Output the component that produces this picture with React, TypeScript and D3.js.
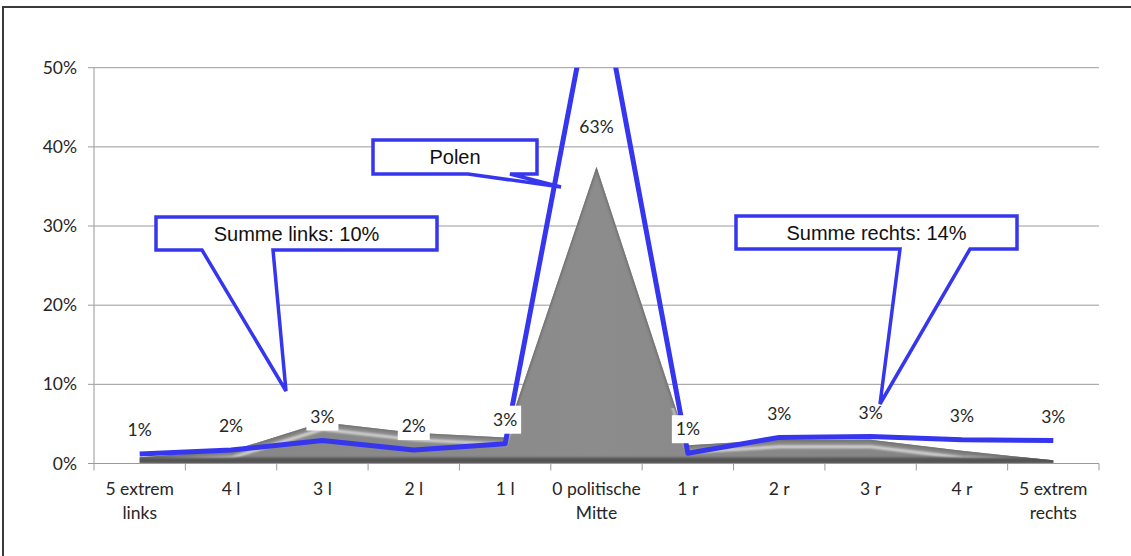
import React from 'react';
import * as d3 from 'd3';

const categories = ['5 extrem|links', '4 l', '3 l', '2 l', '1 l', '0 politische|Mitte', '1 r', '2 r', '3 r', '4 r', '5 extrem|rechts'];
const polenValues = [1.2, 1.7, 2.9, 1.7, 2.5, 63, 1.3, 3.3, 3.4, 3.0, 2.9];
const referenceValues = [0.8, 1.6, 5.2, 3.9, 3.3, 37.5, 2.3, 3.0, 3.0, 1.6, 0.4];
const yTicks = [0, 10, 20, 30, 40, 50];
const seriesName = 'Polen';
const leftIdx = [0, 1, 2, 3, 4];
const rightIdx = [6, 7, 8, 9, 10];

const W = 1131;
const H = 556;
const PL = 94, PR = 1099, PT = 67.7, PB = 463.5;
const BLUE = '#3636ee';
const TXT = '#262626';
const TICKFONT = 'Lato, "Open Sans", sans-serif';
const CALLFONT = '"Liberation Sans", Arial, sans-serif';

export default function App() {
  const x = d3.scaleBand<string>().domain(categories).range([PL, PR]).padding(0);
  const y = d3.scaleLinear().domain([0, 50]).range([PB, PT]);
  const bw = x.bandwidth();
  const cx = (i: number) => (x(categories[i]) as number) + bw / 2;

  const line = d3.line<number>().x((_, i) => cx(i)).y(v => y(v));
  const area = d3.area<number>().x((_, i) => cx(i)).y0(y(0)).y1(v => y(v));
  const edge = d3.line<number>().x((_, i) => cx(i)).y(v => Math.min(y(v) + 7, y(0) - 2));

  const sumL = Math.round(d3.sum(leftIdx, i => polenValues[i]));
  const sumR = Math.round(d3.sum(rightIdx, i => polenValues[i]));

  const callouts = [
    { text: `Summe links: ${sumL}%`, x0: 156, y0: 217, x1: 437, y1: 250, a: 202, b: 273, tx: 286, ty: 391 },
    { text: seriesName, x0: 373, y0: 140, x1: 537, y1: 174, a: 468, b: 510, tx: 561, ty: 187 },
    { text: `Summe rechts: ${sumR}%`, x0: 736, y0: 216, x1: 1017, y1: 249, a: 900, b: 970, tx: 880, ty: 404 },
  ];
  const calloutPath = (c: any) =>
    `M${c.x0},${c.y0}L${c.x1},${c.y0}L${c.x1},${c.y1}L${c.b},${c.y1}L${c.tx},${c.ty}L${c.a},${c.y1}L${c.x0},${c.y1}Z`;

  return (
    <svg width={W} height={H} style={{ position: 'absolute', left: 0, top: 0, background: '#fff' }}>
      <defs>
        <clipPath id="plotClip">
          <rect x={PL} y={PT} width={PR - PL} height={PB - PT + 10} />
        </clipPath>
        <clipPath id="areaClip">
          <path d={area(referenceValues) || ''} />
        </clipPath>
        <clipPath id="lowClip">
          <rect x={PL} y={y(7)} width={PR - PL} height={y(0) - y(7)} />
        </clipPath>
        <linearGradient id="faceGrad" x1="0" y1="0" x2="1" y2="0">
          <stop offset="0" stopColor="#868686" />
          <stop offset="0.5" stopColor="#8c8c8c" />
          <stop offset="1" stopColor="#828282" />
        </linearGradient>
        <filter id="soft" x="-5%" y="-50%" width="110%" height="200%">
          <feGaussianBlur stdDeviation="1.2" />
        </filter>
      </defs>
      <rect x={3} y={7} width={1200} height={600} fill="#fff" stroke="#3a3a3a" strokeWidth={2} />

      {/* gridlines */}
      {yTicks.map(t => (
        <g key={t}>
          {t > 0 && <line x1={PL} x2={PR} y1={y(t)} y2={y(t)} stroke="#9a9a9a" strokeWidth={1} />}
          <line x1={PL - 6} x2={PL} y1={y(t)} y2={y(t)} stroke="#9a9a9a" strokeWidth={1} />
          <text x={77} y={y(t)} dy="0.35em" textAnchor="end" fontFamily={TICKFONT} fontSize={17.5} fill={TXT}>
            {`${t}%`}
          </text>
        </g>
      ))}
      <line x1={PL} x2={PL} y1={PT} y2={PB} stroke="#a8a8a8" strokeWidth={1.2} />

      {/* 3D-like gray area */}
      <path d={area(referenceValues) || ''} fill="url(#faceGrad)" />
      <g clipPath="url(#areaClip)">
        <g clipPath="url(#lowClip)">
          <path d={edge(referenceValues) || ''} fill="none" stroke="#dcdcdc" strokeWidth={3} filter="url(#soft)" opacity={0.95} />
        </g>
        <path d={line(referenceValues) || ''} fill="none" stroke="#707070" strokeWidth={3} filter="url(#soft)" />
        <rect x={PL} y={y(0) - 6} width={PR - PL} height={6} fill="#525252" filter="url(#soft)" />
      </g>

      {/* x axis */}
      <line x1={PL} x2={PR} y1={PB} y2={PB} stroke="#9a9a9a" strokeWidth={1.2} />
      {d3.range(categories.length + 1).map(i => {
        const xx = PL + i * bw;
        return <line key={i} x1={xx} x2={xx} y1={PB} y2={PB + 7} stroke="#9a9a9a" strokeWidth={1} />;
      })}
      {categories.map((c, i) => (
        <text key={c} textAnchor="middle" fontFamily={TICKFONT} fontSize={17.5} fill={TXT}>
          {c.split('|').map((part, k) => (
            <tspan key={k} x={cx(i)} y={495 + k * 24}>{part}</tspan>
          ))}
        </text>
      ))}

      {/* Polen line */}
      <g clipPath="url(#plotClip)">
        <path d={line(polenValues) || ''} fill="none" stroke={BLUE} strokeWidth={5} strokeLinejoin="round" />
      </g>

      {/* data labels */}
      {polenValues.map((v, i) => {
        const label = `${Math.round(v)}%`;
        const ly = Math.max(y(v) - 24, PT + 59);
        const w = label.length * 11 + 10;
        return (
          <g key={i}>
            <rect x={cx(i) - w / 2} y={ly - 14} width={w} height={28} fill="#fff" />
            <text x={cx(i)} y={ly} dy="0.35em" textAnchor="middle" fontFamily={TICKFONT} fontSize={17.5} fill={TXT}>
              {label}
            </text>
          </g>
        );
      })}

      {/* callouts */}
      {callouts.map(c => (
        <g key={c.text}>
          <path d={calloutPath(c)} fill="#fff" stroke={BLUE} strokeWidth={3.5} strokeLinejoin="miter" />
          <text x={(c.x0 + c.x1) / 2} y={(c.y0 + c.y1) / 2} dy="0.36em" textAnchor="middle" fontFamily={CALLFONT} fontSize={20} fill="#111">
            {c.text}
          </text>
        </g>
      ))}
    </svg>
  );
}
